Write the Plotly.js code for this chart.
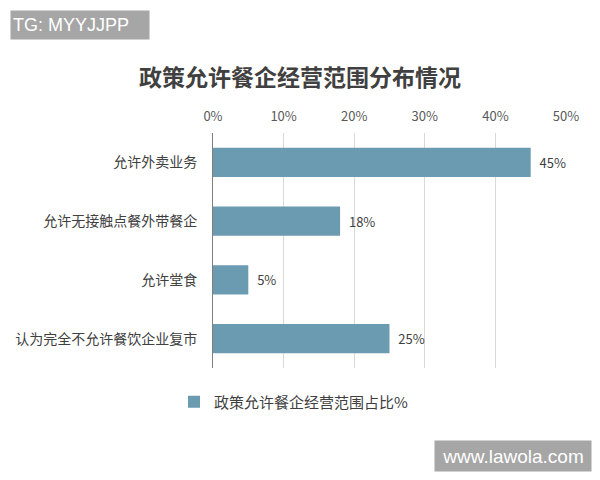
<!DOCTYPE html>
<html>
<head>
<meta charset="utf-8">
<script src="https://cdn.plot.ly/plotly-3.0.1.min.js"></script>
<style>html,body{margin:0;padding:0;background:#fff;}#chart{width:600px;height:480px;}</style>
</head>
<body>
<div id="chart"></div>
<script>
const categories = ['允许外卖业务', '允许无接触点餐外带餐企', '允许堂食', '认为完全不允许餐饮企业复市'];
const values = [0.45, 0.18, 0.05, 0.25];
const valueLabels = ['45%', '18%', '5%', '25%'];
const tickValues = [0, 0.1, 0.2, 0.3, 0.4, 0.5];
const tickLabels = ['0%', '10%', '20%', '30%', '40%', '50%'];
const seriesName = '政策允许餐企经营范围占比%';
const chartTitle = '政策允许餐企经营范围分布情况';

const cjk = '"Noto Sans CJK SC", "Noto Sans", sans-serif';
const trace = {
  type: 'bar',
  orientation: 'h',
  y: categories,
  x: values,
  name: seriesName,
  text: valueLabels,
  texttemplate: '\u00a0\u00a0%{text}',
  textposition: 'outside',
  cliponaxis: false,
  textfont: {family: cjk, size: 13, color: '#404040'},
  marker: {color: '#6b9bb0'},
  showlegend: true,
  hoverinfo: 'none'
};

const L = 213, R = 566, T = 133, B = 368;
const pw = R - L, ph = B - T;
function px(x){ return (x - L) / pw; }
function py(y){ return (B - y) / ph; }

const layout = {
  width: 600, height: 480,
  margin: {l: L, r: 600 - R, t: T, b: 480 - B, autoexpand: false},
  paper_bgcolor: '#ffffff', plot_bgcolor: '#ffffff',
  title: {text: chartTitle, x: px(300), xref: 'paper', xanchor: 'center', y: 1 - 78/480, yanchor: 'middle', yref: 'container',
          font: {family: cjk, size: 23, color: '#404040', weight: 'bold'}},
  bargap: 0.5,
  showlegend: true,
  legend: {orientation: 'h', x: px(174), xanchor: 'left', y: py(402), yanchor: 'middle', itemwidth: 30,
           font: {family: cjk, size: 15, color: '#404040'}},
  xaxis: {
    side: 'top', range: [0, 0.5], tickvals: tickValues, ticktext: tickLabels,
    showgrid: true, gridcolor: '#d9d9d9', gridwidth: 1, zeroline: false, showline: false,
    ticks: '', ticklabelstandoff: 8, tickfont: {family: cjk, size: 13, color: '#595959'}, fixedrange: true
  },
  yaxis: {
    autorange: 'reversed', showline: true, linecolor: '#7f7f7f', linewidth: 1,
    showgrid: false, ticks: '', ticklabelstandoff: 12,
    tickfont: {family: cjk, size: 14, color: '#404040'}, fixedrange: true
  },
  annotations: [
    {text: 'TG: MYYJJPP', xref: 'paper', yref: 'paper', x: px(10), y: py(10), xanchor: 'left', yanchor: 'top',
     showarrow: false, bgcolor: '#a6a6a6', width: 134, height: 24, align: 'left', borderpad: 2,
     font: {family: 'Liberation Sans, Arial, sans-serif', size: 18, color: '#ffffff'}},
    {text: 'www.lawola.com', xref: 'paper', yref: 'paper', x: px(434), y: py(440), xanchor: 'left', yanchor: 'top',
     showarrow: false, bgcolor: '#a6a6a6', width: 152, height: 26, align: 'center', borderpad: 2,
     font: {family: 'Liberation Sans, Arial, sans-serif', size: 19, color: '#ffffff'}}
  ]
};

Plotly.newPlot('chart', [trace], layout, {displayModeBar: false, staticPlot: true});
</script>
</body>
</html>
